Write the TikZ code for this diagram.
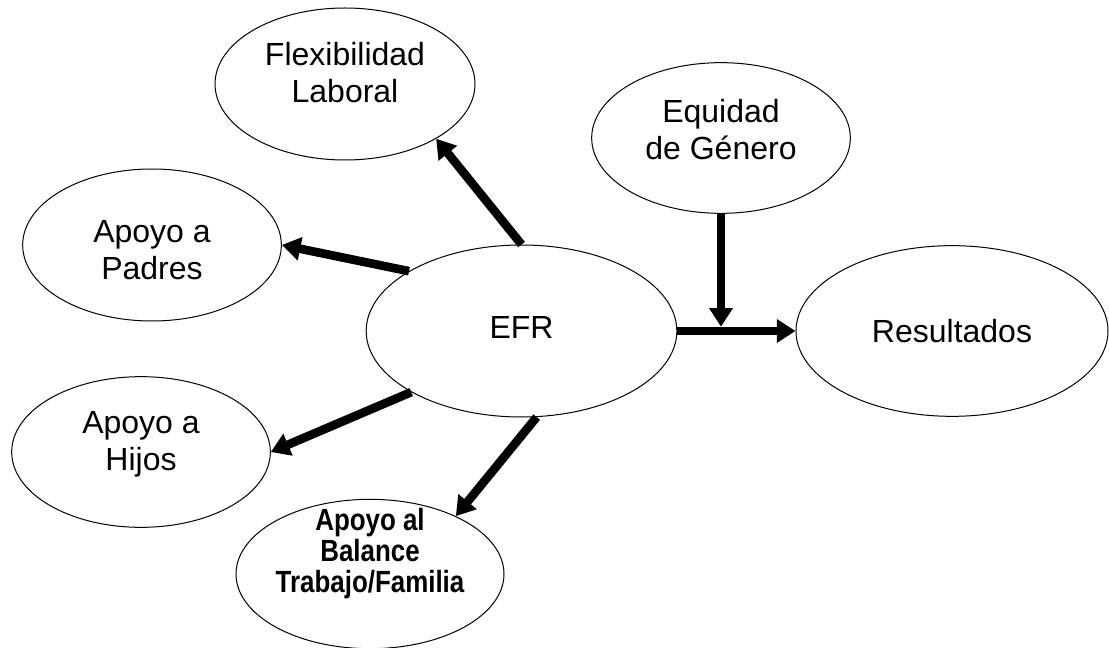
\documentclass[tikz,border=0pt]{standalone}
\usepackage{fontspec}
\newfontfamily\diagfont{Liberation Sans}
\newfontfamily\narrowfont{Liberation Sans}[FakeStretch=0.845]
\usepackage{tikz}
\usetikzlibrary{shapes.geometric, arrows.meta, calc}
\definecolor{inkdark}{HTML}{000000}

\tikzset{
  oval/.style={ellipse, draw=inkdark, line width=0.75pt, inner sep=0pt, align=center,
    font={\diagfont\fontsize{24}{27.75}\selectfont}},
  ovalbold/.style={oval, font={\narrowfont\bfseries\fontsize{23}{23}\selectfont}},
  flow/.style={-{Triangle[length=14pt, width=17pt]}, line width=6.5pt, inkdark}
}

\begin{document}
\begin{tikzpicture}[x=0.75pt, y=-0.75pt]
  \useasboundingbox (0,0) rectangle (1109,648);

  % Ovals
  \node[oval, minimum width=195pt, minimum height=114pt, text height=28.5pt, text depth=0pt]
    (flex) at (345,84) {Flexibilidad\\Laboral};
  \node[oval, minimum width=194pt, minimum height=113pt, text height=33pt, text depth=0pt]
    (equidad) at (721,138) {Equidad\\de Género};
  \node[oval, minimum width=194pt, minimum height=114pt, text height=52.5pt, text depth=0pt]
    (padres) at (152,245) {Apoyo a\\Padres};
  \node[oval, minimum width=233pt, minimum height=129pt, text height=12pt, text depth=0pt]
    (efr) at (521.5,331) {EFR};
  \node[oval, minimum width=234pt, minimum height=128pt] (res) at (952,331) {Resultados};
  \node[oval, minimum width=194pt, minimum height=113pt, text height=28pt, text depth=0pt]
    (hijos) at (141,452) {Apoyo a\\Hijos};
  \node[ovalbold, minimum width=201pt, minimum height=112pt, text height=27pt, text depth=0pt]
    (balance) at (370,574) {Apoyo al\\Balance\\Trabajo/Familia};

  % Arrows out of EFR
  \draw[flow] (efr.north) -- (flex.-31);
  \draw[flow] (efr.152) -- (padres.east);
  \draw[flow] (efr.209) -- (hijos.east);
  \draw[flow] (efr.-80) -- (balance.34);
  \draw[flow] (efr.east) -- (res.west);

  % Equidad onto the EFR -> Resultados line
  \coordinate (join) at (equidad.south |- efr.east);
  \draw[flow, shorten >=3.2pt] (equidad.south) -- (join);
\end{tikzpicture}
\end{document}
